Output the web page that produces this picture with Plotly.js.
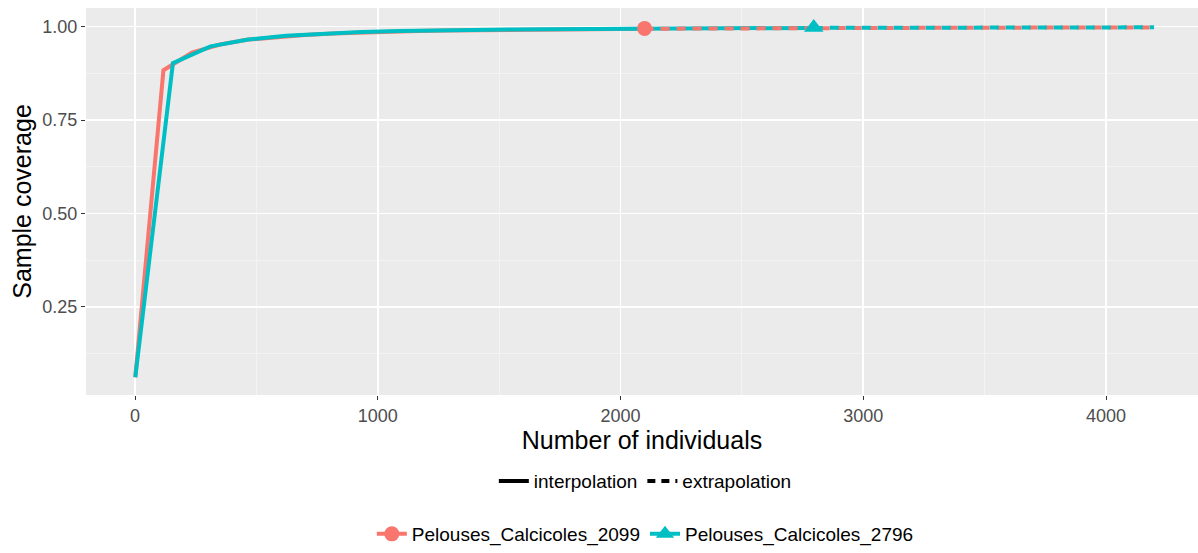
<!DOCTYPE html>
<html>
<head>
<meta charset="utf-8">
<script src="https://cdn.plot.ly/plotly-3.0.1.min.js"></script>
<style>html,body{margin:0;padding:0;background:#fff}#chart{width:1198px;height:553px}</style>
</head>
<body>
<div id="chart"></div>
<script>
// Series names
const seriesNames = ["Pelouses_Calcicoles_2099", "Pelouses_Calcicoles_2796"];
const lineTypeNames = ["interpolation", "extrapolation"];

// Pelouses_Calcicoles_2099 (observed n = 2099)
const redInterpX = [1,117,234,350,467,583,700,816,933,1049,1166,1282,1399,1515,1632,1748,1865,1981,2098,2099];
const redInterpY = [0.062,0.883,0.930,0.952,0.965,0.972,0.977,0.981,0.984,0.986,0.988,0.989,0.990,0.991,0.992,0.9925,0.993,0.9935,0.994,0.994];
const redExtrapX = [2099,2100,2210,2320,2431,2541,2652,2762,2873,2983,3093,3204,3314,3425,3535,3645,3756,3866,3977,4087,4198];
const redExtrapY = [0.994,0.994,0.9943,0.9946,0.9949,0.9952,0.9955,0.9957,0.9959,0.9961,0.9963,0.9965,0.9966,0.9968,0.9969,0.997,0.9971,0.9972,0.9973,0.9974,0.9975];
const redObsX = [2099];
const redObsY = [0.995];

// Pelouses_Calcicoles_2796 (observed n = 2796)
const tealInterpX = [1,156,311,466,622,777,932,1087,1243,1398,1553,1708,1864,2019,2174,2329,2485,2640,2795,2796];
const tealInterpY = [0.062,0.902,0.947,0.965,0.975,0.981,0.985,0.988,0.990,0.991,0.992,0.993,0.9935,0.994,0.9945,0.995,0.9955,0.996,0.9963,0.9963];
const tealExtrapX = [2796,2797,2871,2944,3018,3092,3166,3240,3313,3387,3461,3535,3608,3682,3756,3830,3904,3977,4051,4125,4198];
const tealExtrapY = [0.9963,0.9963,0.9964,0.9965,0.9966,0.9967,0.9968,0.9969,0.997,0.9971,0.9972,0.9972,0.9973,0.9974,0.9974,0.9975,0.9976,0.9976,0.9977,0.9977,0.9978];
const tealObsX = [2796];
const tealObsY = [0.9975];

// Axis ticks
const xTickVals = [0, 1000, 2000, 3000, 4000];
const xTickText = ["0", "1000", "2000", "3000", "4000"];
const yTickVals = [0.25, 0.50, 0.75, 1.00];
const yTickText = ["0.25", "0.50", "0.75", "1.00"];

const RED = "#F8766D", TEAL = "#00BFC4";
const LW = 4;
const DASH = "9px,7px";

const traces = [
  {x: redInterpX, y: redInterpY, type: "scatter", mode: "lines", line: {color: RED, width: LW}, showlegend: false, hoverinfo: "skip"},
  {x: tealInterpX, y: tealInterpY, type: "scatter", mode: "lines", line: {color: TEAL, width: LW}, showlegend: false, hoverinfo: "skip"},
  {x: redExtrapX, y: redExtrapY, type: "scatter", mode: "lines", line: {color: RED, width: LW, dash: DASH}, showlegend: false, hoverinfo: "skip"},
  {x: tealExtrapX, y: tealExtrapY, type: "scatter", mode: "lines", line: {color: TEAL, width: LW, dash: DASH}, showlegend: false, hoverinfo: "skip"},
  {x: redObsX, y: redObsY, type: "scatter", mode: "markers", marker: {color: RED, size: 15, symbol: "circle"}, name: seriesNames[0], showlegend: false},
  {x: tealObsX, y: tealObsY, type: "scatter", mode: "markers", marker: {color: TEAL, size: 17, symbol: "triangle-up"}, name: seriesNames[1], showlegend: false},
  // legend entries: line type
  {x: [null], y: [null], type: "scatter", mode: "lines", line: {color: "#000", width: LW}, name: lineTypeNames[0], legend: "legend"},
  {x: [null], y: [null], type: "scatter", mode: "lines", line: {color: "#000", width: LW, dash: "8px,6px"}, name: lineTypeNames[1], legend: "legend"},
  // legend entries: series
  {x: [null], y: [null], type: "scatter", mode: "lines+markers", line: {color: RED, width: LW}, marker: {color: RED, size: 15, symbol: "circle"}, name: seriesNames[0], legend: "legend2"},
  {x: [null], y: [null], type: "scatter", mode: "lines+markers", line: {color: TEAL, width: LW}, marker: {color: TEAL, size: 17, symbol: "triangle-up"}, name: seriesNames[1], legend: "legend2"}
];

const FONT = "Liberation Sans, Arial, sans-serif";

const layout = {
  width: 1198, height: 553,
  margin: {l: 86, r: 0, t: 8, b: 154},
  paper_bgcolor: "#ffffff",
  plot_bgcolor: "#EBEBEB",
  font: {family: FONT, color: "#000"},
  showlegend: true,
  xaxis: {
    range: [-202, 4379],
    tickvals: xTickVals, ticktext: xTickText,
    showgrid: true, gridcolor: "#ffffff", gridwidth: 1.6,
    minor: {dtick: 500, tick0: 0, showgrid: true, gridcolor: "#F5F5F5", gridwidth: 0.8},
    zeroline: false, showline: false,
    ticks: "outside", ticklen: 4, tickcolor: "#333333", tickwidth: 1,
    tickfont: {size: 18, color: "#4D4D4D", family: FONT},
    title: {text: "Number of individuals", font: {size: 25, color: "#000", family: FONT}, standoff: 4},
    automargin: false
  },
  yaxis: {
    range: [0.0146, 1.0495],
    tickvals: yTickVals, ticktext: yTickText,
    showgrid: true, gridcolor: "#ffffff", gridwidth: 1.6,
    minor: {dtick: 0.25, tick0: 0.125, showgrid: true, gridcolor: "#F5F5F5", gridwidth: 0.8},
    zeroline: false, showline: false,
    ticks: "outside", ticklen: 4, tickcolor: "#333333", tickwidth: 1,
    tickfont: {size: 18, color: "#4D4D4D", family: FONT},
    title: {text: "Sample coverage", font: {size: 25, color: "#000", family: FONT}, standoff: 3},
    automargin: false
  },
  legend: {
    orientation: "h", x: 0.503, xanchor: "center", y: -0.2225, yanchor: "middle",
    font: {size: 19, family: FONT, color: "#000"}, bgcolor: "rgba(0,0,0,0)",
    itemwidth: 30, traceorder: "normal"
  },
  legend2: {
    orientation: "h", x: 0.503, xanchor: "center", y: -0.36, yanchor: "middle",
    font: {size: 19, family: FONT, color: "#000"}, bgcolor: "rgba(0,0,0,0)",
    itemwidth: 30, traceorder: "normal"
  }
};

Plotly.newPlot("chart", traces, layout, {staticPlot: true, displayModeBar: false});
</script>
</body>
</html>
